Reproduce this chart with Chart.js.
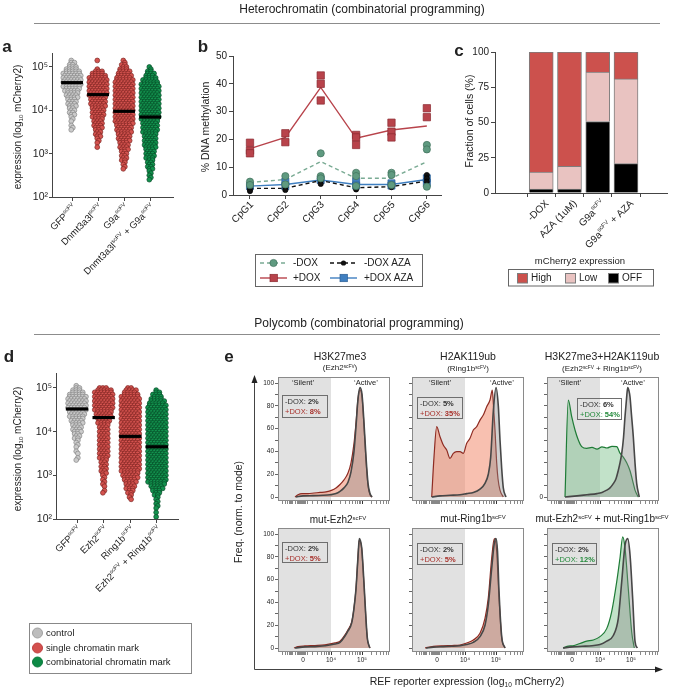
<!DOCTYPE html>
<html>
<head>
<meta charset="utf-8">
<title>Heterochromatin / Polycomb combinatorial programming</title>
<script src="https://cdn.jsdelivr.net/npm/chart.js"></script>
<style>
  body { margin: 0; background: #fff; }
  #fig { position: relative; width: 675px; height: 688px; overflow: hidden; background: #fff;
         font-family: "Liberation Sans", Arial, Helvetica, sans-serif; color: #222; }
  #fig canvas, #fig svg { position: absolute; left: 0; top: 0; }
  .t { position: absolute; white-space: nowrap; line-height: 1; }
  .mid { transform: translate(-50%, -50%); }
  .lft { transform: translate(0, -50%); }
  .rot { transform: translate(-50%, -50%) rotate(-90deg); }
  .letter { font-weight: bold; }
  .t sup, .ann sup { font-size: 60%; position: relative; top: -0.5em; vertical-align: baseline; line-height: 0; }
  .t sub { font-size: 62%; position: relative; top: 0.3em; vertical-align: baseline; line-height: 0; }
  .ann { position: absolute; border: 1px solid #6e6e6e; font-size: 7.5px; line-height: 9.5px;
         padding: 1px 0 0 2px; box-sizing: border-box; white-space: nowrap; color: #333; }
  .red { color: #a8322c; }
  .grn { color: #238a3b; }
</style>
</head>
<body>
<div id="fig"></div>
<script>
const W = 675, H = 688;
const fig = document.getElementById('fig');

// ---------- a: heterochromatin effectors ----------
const aLabels = ['GFP^{scFV}', 'Dnmt3a3l^{scFV}', 'G9a^{scFV}', 'Dnmt3a3l^{scFV} + G9a^{scFV}'];
const aColors = ['gray', 'red', 'red', 'green'];
// swarm rows: log10 value of the top row, then cells per row (one row every 0.05 log10)
const aTop = [5.15, 5.15, 5.15, 5.00];
const aGfp = [1,2,2,3,4,5,6,6,6,6,6,6,6,5,5,4,4,4,3,3,3,3,2,2,2,2,1,1,1,0,1,1,1];
const aDnmt = [1,0,0,0,1,3,4,5,6,6,6,6,6,6,6,6,6,5,5,5,5,5,4,4,4,4,4,3,3,3,3,3,2,2,2,2,1,1,1,0,1];
const aG9a = [1,1,2,2,3,4,4,5,5,6,6,6,6,6,6,6,6,6,6,6,6,6,6,6,6,6,6,6,6,6,5,5,5,5,4,4,4,4,3,3,3,3,2,2,2,2,2,1,1,1,1];
const aCombo = [1,1,2,3,3,4,5,5,6,6,6,6,6,6,6,6,6,6,6,6,6,6,6,6,6,5,5,5,5,5,5,4,4,4,4,4,4,4,3,3,3,3,3,2,2,2,2,2,1,1,1,1,1];
const aMedian = [43500, 23000, 9500, 7000];

// ---------- b: CpG methylation ----------
const cpgLabels = ['CpG1', 'CpG2', 'CpG3', 'CpG4', 'CpG5', 'CpG6'];
const bMinusDox = [4.5, 5.6, 12, 6, 6, 12];
const bMinusDoxPts = [[4.8, 3.6], [6.8, 3.8], [15, 6.8, 6], [8, 6.8, 3.2], [8, 7.2, 3.6], [18, 16.4, 3]];
const bPlusDox = [16.7, 20.7, 38.7, 20.4, 23.4, 24.8];
const bPlusDoxPts = [[18.8, 16, 15], [22.2, 19], [43, 40, 34], [21.6, 20.7, 18], [26, 22.8, 20.7], [31.2, 28]];
const bMinusAza = [2.4, 2.4, 5.2, 2.6, 3, 5];
const bMinusAzaPts = [[3, 2, 1.4], [2.8, 1.8], [6, 5.2, 4], [3, 2], [3.2, 2.8], [7.2, 6, 4.8]];
const bPlusAza = [3.2, 3.8, 5.4, 3.8, 3.8, 5.6];
const bPlusAzaPts = [[3.2], [4.8, 3.2], [5.4], [5, 3.4], [4.2, 3.4], [6, 4.4]];

// ---------- c: fraction of cells ----------
const cLabels = ['-DOX', 'AZA (1uM)', 'G9a^{scFV}', 'G9a^{scFV} + AZA'];
const cOff = [2.8, 2.8, 50.7, 20.8];
const cLow = [12.1, 16.1, 35.1, 60.1];
const cHigh = [85.1, 81.1, 14.2, 19.1];

// ---------- d: polycomb effectors ----------
const dLabels = ['GFP^{scFV}', 'Ezh2^{scFV}', 'Ring1b^{scFV}', 'Ezh2^{scFV} + Ring1b^{scFV}'];
const dColors = ['gray', 'red', 'red', 'green'];
const dTop = [5.05, 5.00, 5.00, 4.95];
const dGfp = [1,2,3,4,5,6,6,6,6,6,6,6,5,5,5,4,4,4,3,3,3,3,2,2,2,1,1,1,1,0,1,1,0,1,1];
const dEzh2 = [3,5,6,6,6,6,6,6,6,6,6,5,5,5,4,4,4,3,3,3,3,3,3,3,3,3,3,3,3,3,3,3,3,2,2,2,2,2,2,2,1,1,1,1,1,1,0,1,1];
const dRing = [2,4,4,5,6,6,6,6,6,6,6,6,6,6,6,6,6,6,6,6,6,6,6,6,6,6,6,6,6,6,6,6,6,6,6,6,6,6,6,5,5,5,4,4,3,3,3,2,2,1,1,1];
const dCombo = [1,2,3,3,4,5,5,6,6,6,6,6,6,6,6,6,6,6,6,6,6,6,6,6,6,6,6,6,6,6,6,6,6,6,6,6,6,6,6,6,6,6,6,5,4,4,3,2,2,1,1,1,1,1,1,0,1,0,1];
const dMedian = [33000, 21000, 7800, 4500];

// ---------- e: flow histograms (x in axis units, y = % of mode) ----------
const eGate = 53;   // 10^4 position, 'Silent' gate
const eXTicks = [4,7,9.5,11,12.5,13.5,14.5,17,19,20.5,21.5,22.5,23.5,24.2,25,25.8,26.5,27.5,29,34,39,43,46,48,50,51.5,53,62.3,67.8,71.7,74.7,77.1,79.2,81,82.6,84,93.3,98.8,102.7,105.7,108.1,110.2];
const eXLabels = { 25: '0', 53: '10\u2074', 84: '10\u2075' };

const k27MinusX = [18, 25, 35, 45, 52, 58, 62, 66, 70, 73, 76, 78, 80, 82, 84, 86, 88, 90, 92, 94];
const k27MinusY = [0, 1, 1.2, 1.5, 2, 3, 5, 8, 13, 22, 40, 62, 86, 96, 90, 65, 35, 12, 3, 0];
const k27PlusX = [17, 20, 24, 30, 36, 42, 48, 54, 58, 62, 66, 70, 73, 76, 78, 80, 82, 84, 86, 88, 90, 92, 94];
const k27PlusY = [0, 2, 3, 3, 3.5, 4, 4.5, 6, 8, 11, 15, 21, 30, 47, 65, 86, 94, 88, 62, 32, 10, 2, 0];

const ubMinusX = [19.7, 28, 38, 48, 54.7, 61.3, 68, 73, 76.3, 78.7, 81.3, 84, 86.3, 88, 89.7, 91.3, 94];
const ubMinusY = [0, 1, 1.5, 2, 3, 4, 7, 12, 20, 35, 75, 96, 80, 50, 25, 8, 0];
const ubPlusX = [19.7, 22, 24.7, 28, 31.3, 34.7, 38, 41.3, 44.7, 48, 51.3, 54.7, 58, 61.3, 64.7, 68, 71.3, 74.7, 78, 80.3, 81.5, 83, 84.7, 86, 88, 91.3];
const ubPlusY = [0, 35, 61.7, 52.9, 45.6, 41.2, 33.9, 38.3, 39.8, 39.8, 38.3, 47.1, 51.5, 58.8, 61.7, 67.5, 71.9, 79.2, 85.1, 93.9, 80, 58.8, 29.8, 16, 6, 0];

const bothMinusX = [18, 30, 40, 50, 55, 59.7, 63, 66.3, 69, 71.3, 73, 74.7, 76.5, 78, 79.5, 80.7, 82, 83, 84.5, 86.3, 88, 89.7, 92.3];
const bothMinusY = [0, 1, 2, 3, 4, 6, 8, 11.7, 16, 23.4, 30, 38, 52, 70.5, 86, 96, 93, 88, 72, 52.9, 30, 12, 0];
const bothPlusX = [18, 21.3, 24.7, 28, 31.3, 34.7, 39.7, 45, 50, 55, 60, 65, 69.7, 73, 76.3, 79.7, 83, 86.3, 88, 91.3];
const bothPlusY = [0, 85, 70.5, 58.8, 50, 44.2, 42.7, 43.5, 42, 44, 43, 44.5, 44.2, 38.5, 35, 30, 23, 12, 6, 0];

const mEzhMinusX = [17, 27, 37, 47, 57, 62, 67, 70, 73.7, 76, 78, 80, 81.3, 82.5, 83.7, 85, 86.3, 88, 89.3, 91, 92];
const mEzhMinusY = [0, 1, 1.2, 2, 3.5, 5, 10.5, 15, 22, 35, 52, 80, 96, 94, 88, 72, 52, 25, 9, 2, 0];
const mEzhPlusX = [16, 20, 27, 37, 47, 57, 62, 67, 70, 73.7, 76, 78, 80, 81.3, 82.5, 83.7, 85, 86.3, 88, 89.3, 91, 92];
const mEzhPlusY = [0, 1.2, 1.8, 2.2, 2.8, 4.5, 6, 11.5, 16, 23, 35, 52, 80, 95, 93, 87, 70, 50, 24, 8, 2, 0];

const mRingMinusX = [14, 21.3, 31.3, 40, 48, 54.7, 61.3, 68, 73, 76.3, 79.7, 82.3, 84, 85.5, 87, 89.7, 93];
const mRingMinusY = [0, 0.8, 1.2, 1.5, 2, 3, 5, 10, 20, 38, 70, 92, 96, 85, 50, 10, 0];
const mRingPlusX = [13, 21.3, 31.3, 40, 48, 54.7, 61.3, 68, 73, 76.3, 79.7, 82.3, 84.7, 87, 89.7, 93];
const mRingPlusY = [0, 1.5, 2, 2.2, 2.6, 4.4, 7, 12.9, 26, 44, 79, 96, 84.5, 44, 9, 0];

const mBothMinusX = [16, 25, 35, 45, 53, 59.7, 66.3, 71.3, 74.7, 78, 80.7, 83, 85.7, 88, 90.3];
const mBothMinusY = [0, 1, 1.5, 2, 3, 6, 11, 26, 58, 90, 96, 82, 43, 6, 0];
const mBothPlusX = [16.3, 20, 26, 33, 39.7, 46.3, 53, 59.7, 64.7, 69.7, 73, 75.7, 78, 81.3, 84.7, 87.3];
const mBothPlusY = [0, 1.5, 2, 4, 6, 7, 10, 17, 32, 58, 79, 97.6, 88, 52, 14, 0];

// ---------- setup ----------
Chart.defaults.font.family = '"Liberation Sans", Arial, sans-serif';
Chart.defaults.color = '#222';
Chart.defaults.animation = false;
Chart.defaults.responsive = false;
Chart.defaults.plugins.legend.display = false;
Chart.defaults.plugins.tooltip.enabled = false;

const YW = 30, XH = 20;
const supDigits = '\u2070\u00b9\u00b2\u00b3\u2074\u2075\u2076\u2077\u2078\u2079';
const dot = { gray: ['#cbcbcb', '#858585'], red: ['#d4534f', '#7e2523'], green: ['#13924e', '#064a26'] };

function mkCanvas() {
  const c = document.createElement('canvas');
  c.width = W; c.height = H;
  fig.appendChild(c);
  return c;
}
// chart area in page pixels -> layout padding
function place(L, T, R, B) {
  return { padding: { left: L - YW, top: T, right: W - R, bottom: H - B - XH } };
}
function grid(len, color) {
  return { drawOnChartArea: false, drawTicks: true, tickLength: len, color: color || '#444', lineWidth: 1 };
}
const border = { display: true, color: '#444', width: 1 };
const pts = (xs, ys) => xs.map((x, i) => ({ x, y: ys[i] }));

function swarmPoints(top, counts, cat, step) {
  const out = [];
  counts.forEach((n, i) => {
    const y = Math.pow(10, top - i * 0.05);
    const shift = (i % 2 ? 0.25 : -0.25) * step;
    for (let j = 0; j < n; j++) out.push({ x: cat + (j - (n - 1) / 2) * step + shift, y });
  });
  return out;
}

// rotated category labels with ^{superscript}
const richTicks = {
  id: 'richTicks',
  afterDraw(chart, args, o) {
    if (!o || !o.labels) return;
    const ctx = chart.ctx, sx = chart.scales.x, yb = chart.chartArea.bottom;
    const fam = '"Liberation Sans", Arial, sans-serif';
    o.labels.forEach((lab, i) => {
      const parts = lab.split(/(\^\{[^}]*\})/).filter(Boolean)
        .map(p => p.startsWith('^{') ? { t: p.slice(2, -1), sup: true } : { t: p, sup: false });
      ctx.save();
      let w = 0;
      parts.forEach(p => {
        ctx.font = (p.sup ? o.size * 0.6 : o.size) + 'px ' + fam;
        p.w = ctx.measureText(p.t).width; w += p.w;
      });
      ctx.translate(sx.getPixelForValue(i) + o.dx, yb + o.dy);
      ctx.rotate(-Math.PI / 4);
      ctx.fillStyle = '#222'; ctx.textBaseline = 'middle'; ctx.textAlign = 'left';
      let x = -w;
      parts.forEach(p => {
        ctx.font = (p.sup ? o.size * 0.6 : o.size) + 'px ' + fam;
        ctx.fillText(p.t, x, p.sup ? -o.size * 0.35 : 0);
        x += p.w;
      });
      ctx.restore();
    });
  }
};

// gray 'Silent' gate + box frame for flow plots
const flowFrame = {
  id: 'flowFrame',
  beforeDatasetsDraw(chart, args, o) {
    const { ctx, chartArea: a, scales: { x } } = chart;
    ctx.save();
    ctx.fillStyle = '#e1e1e1';
    ctx.fillRect(a.left, a.top, x.getPixelForValue(o.gate) - a.left, a.bottom - a.top);
    ctx.restore();
  },
  afterDraw(chart) {
    const { ctx, chartArea: a } = chart;
    ctx.save();
    ctx.strokeStyle = '#8a8a8a'; ctx.lineWidth = 1;
    ctx.strokeRect(a.left + 0.5, a.top + 0.5, a.right - a.left - 1, a.bottom - a.top - 1);
    ctx.restore();
  }
};

// ---------- swarm panels (a, d) ----------
function swarmChart(L, T, R, B, xmin, xmax, ymax, tops, rows, colors, medians, labels) {
  const step = 0.122;
  const ds = [];
  medians.forEach((m, i) => ds.push({
    data: [{ x: i - 0.42, y: m }, { x: i + 0.42, y: m }], showLine: true,
    borderColor: '#000', borderWidth: 3.2, pointRadius: 0, order: 0
  }));
  rows.forEach((r, i) => ds.push({
    data: swarmPoints(tops[i], r, i, step),
    backgroundColor: dot[colors[i]][0], borderColor: dot[colors[i]][1],
    borderWidth: 0.7, pointRadius: 2.4, order: 1
  }));
  new Chart(mkCanvas(), {
    type: 'scatter',
    data: { datasets: ds },
    options: {
      layout: place(L, T, R, B),
      scales: {
        x: {
          type: 'linear', min: xmin, max: xmax,
          afterFit: s => { s.height = XH; },
          afterBuildTicks: s => { s.ticks = labels.map((_, i) => ({ value: i })); },
          ticks: { display: false }, grid: grid(4), border
        },
        y: {
          type: 'logarithmic', min: 100, max: ymax,
          afterFit: s => { s.width = YW; },
          afterBuildTicks: s => { s.ticks = [100, 1e3, 1e4, 1e5].map(v => ({ value: v })); },
          ticks: { callback: v => '10' + supDigits[Math.round(Math.log10(v))], font: { size: 10.5 }, padding: 1 },
          grid: grid(3), border
        }
      },
      plugins: { richTicks: { labels, dx: 3, dy: 9, size: 9.5 } }
    },
    plugins: [richTicks]
  });
}
swarmChart(52, 53, 173, 197, -0.77, 3.88, 2.1e5, aTop, [aGfp, aDnmt, aG9a, aCombo], aColors, aMedian, aLabels);
swarmChart(56, 373, 178, 519, -0.79, 3.79, 2.2e5, dTop, [dGfp, dEzh2, dRing, dCombo], dColors, dMedian, dLabels);

// ---------- b ----------
const bGreen = '#5f9a80', bRed = '#b8434b', bBlue = '#3f7fc0';
function meanLine(vals, color, dash) {
  return { data: vals.map((v, i) => ({ x: i, y: v })), showLine: true, borderColor: color,
           borderWidth: 1.4, borderDash: dash, pointRadius: 0, order: 2 };
}
function reps(groups, color, edge, style, r, ord) {
  const data = [];
  groups.forEach((g, i) => g.forEach(v => data.push({ x: i, y: v })));
  return { data, pointStyle: style, pointRadius: r, backgroundColor: color, borderColor: edge, borderWidth: 0.7, order: ord };
}
new Chart(mkCanvas(), {
  type: 'scatter',
  data: { datasets: [
    meanLine(bMinusAza, '#111', [4, 3]),
    meanLine(bPlusAza, bBlue, []),
    meanLine(bMinusDox, '#7aab94', [4, 3]),
    meanLine(bPlusDox, bRed, []),
    reps(bMinusAzaPts, '#111', '#000', 'circle', 2.6, 1),
    reps(bPlusAzaPts, bBlue, '#2b5f94', 'rect', 5, 1),
    reps(bMinusDoxPts, bGreen, '#3f705a', 'circle', 3.6, 0),
    reps(bPlusDoxPts, bRed, '#8a2a31', 'rect', 5.2, 0)
  ] },
  options: {
    layout: place(233, 56, 441, 195),
    scales: {
      x: {
        type: 'linear', min: -0.48, max: 5.4,
        afterFit: s => { s.height = XH; },
        afterBuildTicks: s => { s.ticks = cpgLabels.map((_, i) => ({ value: i })); },
        ticks: { display: false }, grid: grid(4), border
      },
      y: {
        min: 0, max: 50,
        afterFit: s => { s.width = YW; },
        afterBuildTicks: s => { s.ticks = [0, 10, 20, 30, 40, 50].map(v => ({ value: v })); },
        ticks: { font: { size: 10 }, padding: 2 }, grid: grid(4), border
      }
    },
    plugins: { richTicks: { labels: cpgLabels, dx: 2, dy: 8, size: 10 } }
  },
  plugins: [richTicks]
});

// ---------- c ----------
const cBar = (vals, color) => ({ data: vals.map((v, i) => ({ x: i, y: v })), backgroundColor: color,
  borderColor: '#7d7d7d', borderWidth: 1, barThickness: 24 });
new Chart(mkCanvas(), {
  type: 'bar',
  data: { datasets: [cBar(cOff, '#000000'), cBar(cLow, '#e9c3c1'), cBar(cHigh, '#cc514d')] },
  options: {
    layout: place(495, 52, 667, 193),
    scales: {
      x: {
        type: 'linear', min: -0.875, max: 3.69, stacked: true,
        afterFit: s => { s.height = XH; },
        afterBuildTicks: s => { s.ticks = cLabels.map((_, i) => ({ value: i })); },
        ticks: { display: false }, grid: grid(4), border
      },
      y: {
        min: 0, max: 100, stacked: true,
        afterFit: s => { s.width = YW; },
        afterBuildTicks: s => { s.ticks = [0, 25, 50, 75, 100].map(v => ({ value: v })); },
        ticks: { font: { size: 10 }, padding: 2 }, grid: grid(4), border
      }
    },
    plugins: { richTicks: { labels: cLabels, dx: 6, dy: 9, size: 10 } }
  },
  plugins: [richTicks]
});

// ---------- e ----------
const eCols = [[278, 390], [412, 524], [547, 659]];
const eRows = [[377, 501], [528, 652]];
function flowChart(col, row, mx, my, px, py, plusLine, plusFill, yLab, showX) {
  const [L, R] = eCols[col], [T, B] = eRows[row];
  new Chart(mkCanvas(), {
    type: 'line',
    data: { datasets: [
      { data: pts(mx, my), borderColor: '#474747', borderWidth: 1.6, backgroundColor: 'rgba(135,135,135,0.38)',
        fill: { value: 0 }, pointRadius: 0, cubicInterpolationMode: 'monotone' },
      { data: pts(px, py), borderColor: plusLine, borderWidth: 1.2, backgroundColor: plusFill,
        fill: { value: 0 }, pointRadius: 0, cubicInterpolationMode: 'monotone' }
    ] },
    options: {
      layout: place(L, T, R, B),
      scales: {
        x: {
          type: 'linear', min: 0, max: 112,
          afterFit: s => { s.height = XH; },
          afterBuildTicks: s => { s.ticks = eXTicks.map(v => ({ value: v })); },
          ticks: { display: showX, autoSkip: false, maxRotation: 0, font: { size: 6.5 }, padding: 1,
                   callback: v => eXLabels[v] || '' },
          grid: Object.assign(grid(3, '#666'), { tickColor: c => (c.tick && eXLabels[c.tick.value]) ? '#333' : '#888' }),
          border: { display: false }
        },
        y: {
          min: -3.5, max: 105.3,
          afterFit: s => { s.width = YW; },
          afterBuildTicks: s => { s.ticks = [0, 10, 20, 30, 40, 50, 60, 70, 80, 90, 100].map(v => ({ value: v })); },
          ticks: { autoSkip: false, font: { size: 6.5 }, padding: 1, callback: yLab },
          grid: grid(3, '#666'), border: { display: false }
        }
      },
      plugins: { flowFrame: { gate: eGate } }
    },
    plugins: [flowFrame]
  });
}
const redLine = '#8e2b22', redFill = 'rgba(242,140,112,0.55)';
const grnLine = '#1e7b36', grnFill = 'rgba(120,190,135,0.45)';
const yFull = v => (v % 20 === 0 ? String(v) : '');
const yNone = () => '';
const yZero = v => (v === 0 ? '0' : '');
flowChart(0, 0, k27MinusX, k27MinusY, k27PlusX, k27PlusY, redLine, redFill, yFull, false);
flowChart(1, 0, ubMinusX, ubMinusY, ubPlusX, ubPlusY, redLine, redFill, yNone, false);
flowChart(2, 0, bothMinusX, bothMinusY, bothPlusX, bothPlusY, grnLine, grnFill, yZero, false);
flowChart(0, 1, mEzhMinusX, mEzhMinusY, mEzhPlusX, mEzhPlusY, redLine, redFill, yFull, true);
flowChart(1, 1, mRingMinusX, mRingMinusY, mRingPlusX, mRingPlusY, redLine, redFill, yNone, true);
flowChart(2, 1, mBothMinusX, mBothMinusY, mBothPlusX, mBothPlusY, grnLine, grnFill, yNone, true);

// ---------- decorations: rules, legends, arrows ----------
const svgNS = 'http://www.w3.org/2000/svg';
const svg = document.createElementNS(svgNS, 'svg');
svg.setAttribute('width', W); svg.setAttribute('height', H);
svg.innerHTML = `
  <line x1="34" y1="23.5" x2="660" y2="23.5" stroke="#8c8c8c" stroke-width="1"/>
  <line x1="34" y1="334.5" x2="660" y2="334.5" stroke="#8c8c8c" stroke-width="1"/>
  <rect x="255.5" y="254.5" width="167" height="32" fill="none" stroke="#666"/>
  <line x1="260" y1="263" x2="287" y2="263" stroke="#7aab94" stroke-width="1.4" stroke-dasharray="4,3"/>
  <circle cx="273.5" cy="263" r="3.6" fill="${bGreen}" stroke="#3f705a" stroke-width="0.7"/>
  <line x1="330" y1="263" x2="357" y2="263" stroke="#111" stroke-width="1.4" stroke-dasharray="4,3"/>
  <circle cx="343.5" cy="263" r="2.6" fill="#111"/>
  <line x1="260" y1="278" x2="287" y2="278" stroke="${bRed}" stroke-width="1.4"/>
  <rect x="270" y="274.3" width="7.4" height="7.4" fill="${bRed}" stroke="#8a2a31" stroke-width="0.7"/>
  <line x1="330" y1="278" x2="357" y2="278" stroke="${bBlue}" stroke-width="1.4"/>
  <rect x="340" y="274.3" width="7.4" height="7.4" fill="${bBlue}" stroke="#2b5f94" stroke-width="0.7"/>
  <rect x="508.5" y="269.5" width="145" height="16.5" fill="none" stroke="#666"/>
  <rect x="517.5" y="273.5" width="10" height="9.5" fill="#cc514d" stroke="#7d7d7d"/>
  <rect x="565.5" y="273.5" width="10" height="9.5" fill="#e9c3c1" stroke="#7d7d7d"/>
  <rect x="608.5" y="273.5" width="10" height="9.5" fill="#000" stroke="#7d7d7d"/>
  <rect x="29.5" y="623.5" width="162" height="50" fill="none" stroke="#888"/>
  <circle cx="37.5" cy="633" r="5" fill="#bdbdbd" stroke="#a0a0a0"/>
  <circle cx="37.5" cy="648" r="5" fill="#d3504e" stroke="#c04040"/>
  <circle cx="37.5" cy="662" r="5" fill="#0d8a45" stroke="#0b7a3c"/>
  <line x1="254.5" y1="669.5" x2="254.5" y2="381" stroke="#444" stroke-width="1"/>
  <polygon points="254.5,375 251.5,383 257.5,383" fill="#222"/>
  <line x1="254.5" y1="669.5" x2="656" y2="669.5" stroke="#444" stroke-width="1"/>
  <polygon points="663,669.5 655,666.5 655,672.5" fill="#222"/>
`;
fig.appendChild(svg);

function txt(html, x, y, cls, size) {
  const d = document.createElement('div');
  d.className = 't ' + cls;
  d.style.left = x + 'px'; d.style.top = y + 'px'; d.style.fontSize = size + 'px';
  d.innerHTML = html;
  fig.appendChild(d);
}
function ann(x, y, w, h, minus, plus, cls) {
  const d = document.createElement('div');
  d.className = 'ann';
  Object.assign(d.style, { left: x + 'px', top: y + 'px', width: w + 'px', height: h + 'px' });
  d.innerHTML = `-DOX: <b>${minus}</b><br><span class="${cls}">+DOX: <b>${plus}</b></span>`;
  fig.appendChild(d);
}
const sc = '<sup>scFV</sup>';

txt('Heterochromatin (combinatorial programming)', 362, 9, 'mid', 12);
txt('Polycomb (combinatorial programming)', 359, 323, 'mid', 12);
txt('a', 7, 46, 'mid letter', 17);
txt('b', 203, 46, 'mid letter', 17);
txt('c', 459, 50, 'mid letter', 17);
txt('d', 9, 356, 'mid letter', 17);
txt('e', 229, 356, 'mid letter', 17);

txt('expression (log<sub>10</sub> mCherry2)', 18, 127, 'rot', 10);
txt('% DNA methylation', 205, 127, 'rot', 10.5);
txt('Fraction of cells (%)', 469, 121, 'rot', 10.5);
txt('expression (log<sub>10</sub> mCherry2)', 18, 449, 'rot', 10);
txt('Freq. (norm. to mode)', 238, 512, 'rot', 10.5);
txt('REF reporter expression (log<sub>10</sub> mCherry2)', 467, 681, 'mid', 10.5);

txt('-DOX', 293, 263, 'lft', 10);
txt('-DOX AZA', 364, 263, 'lft', 10);
txt('+DOX', 293, 278, 'lft', 10);
txt('+DOX AZA', 364, 278, 'lft', 10);

txt('mCherry2 expression', 580, 261, 'mid', 9.5);
txt('High', 531, 278, 'lft', 10);
txt('Low', 579, 278, 'lft', 10);
txt('OFF', 622, 278, 'lft', 10);

txt('control', 46, 633, 'lft', 9.5);
txt('single chromatin mark', 46, 648, 'lft', 9.5);
txt('combinatorial chromatin mark', 46, 662, 'lft', 9.5);

txt('H3K27me3', 340, 356, 'mid', 10.5);
txt('H2AK119ub', 468, 356, 'mid', 10.5);
txt('H3K27me3+H2AK119ub', 602, 356, 'mid', 10.5);
txt('(Ezh2' + sc + ')', 340, 368, 'mid', 8);
txt('(Ring1b' + sc + ')', 468, 369, 'mid', 8);
txt('(Ezh2' + sc + ' + Ring1b' + sc + ')', 602, 369, 'mid', 8);
txt('\u2018Silent\u2019', 303, 383, 'mid', 7.5);
txt('\u2018Active\u2019', 366, 383, 'mid', 7.5);
txt('\u2018Silent\u2019', 440, 383, 'mid', 7.5);
txt('\u2018Active\u2019', 502, 383, 'mid', 7.5);
txt('\u2018Silent\u2019', 570, 383, 'mid', 7.5);
txt('\u2018Active\u2019', 633, 383, 'mid', 7.5);
txt('mut-Ezh2' + sc, 338, 520, 'mid', 10);
txt('mut-Ring1b' + sc, 473, 519, 'mid', 10);
txt('mut-Ezh2' + sc + ' + mut-Ring1b' + sc, 602, 519, 'mid', 10);

ann(282, 395, 46, 23, '2%', '8%', 'red');
ann(417, 397, 46, 22, '5%', '35%', 'red');
ann(577, 398, 45, 22, '6%', '54%', 'grn');
ann(282, 542, 46, 21, '2%', '5%', 'red');
ann(417, 543, 46, 22, '2%', '5%', 'red');
ann(552, 543, 45, 22, '2%', '12%', 'grn');
</script>
</body>
</html>
